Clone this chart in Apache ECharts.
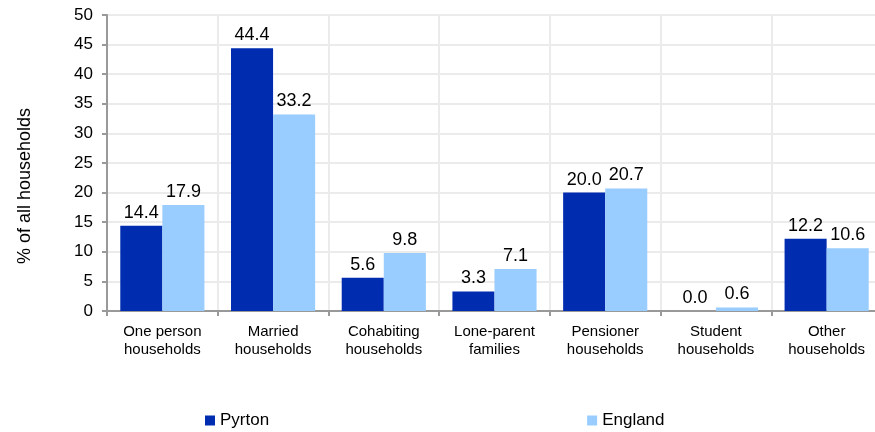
<!DOCTYPE html>
<html>
<head>
<meta http-equiv="content-type" content="text/html; charset=utf-8"/>
<title>Household composition</title>
<style type="text/css">body,html{width:100%;height:100%;margin:0;background:#fff;overflow:hidden}#chart{width:882px;height:432px}</style>
<script src="https://cdn.jsdelivr.net/npm/echarts@6/dist/echarts.min.js"></script>
</head>
<body>
<div id="chart"></div>
<script>
	var categories = ["One person\nhouseholds", "Married\nhouseholds", "Cohabiting\nhouseholds", "Lone-parent\nfamilies", "Pensioner\nhouseholds", "Student\nhouseholds", "Other\nhouseholds"];
	var pyrton = [14.4, 44.4, 5.6, 3.3, 20.0, 0.0, 12.2];
	var england = [17.9, 33.2, 9.8, 7.1, 20.7, 0.6, 10.6];
	var yTicks = {min: 0, max: 50, interval: 5};
	var yTitle = '% of all households';

	var font = "'Liberation Sans', Arial, sans-serif";
	var myChart = echarts.init(document.getElementById('chart'));

	//数据标签
	function barLabel() {
		return {
			show: true,
			position: 'top',
			distance: 4,
			color: '#000',
			fontFamily: font,
			fontSize: 18,
			formatter: function (p) { return p.value.toFixed(1); }
		};
	}

	var option = {
		animation: false,
		textStyle: {fontFamily: font},
		grid: {left: 107, right: 0, top: 15, bottom: 121},
		legend: {
			left: 200,
			top: 407,
			itemWidth: 10,
			itemHeight: 10,
			itemGap: 318,
			icon: 'rect',
			textStyle: {color: '#000', fontSize: 17, fontFamily: font},
			data: ['Pyrton', 'England']
		},
		//纵轴标题
		graphic: [{
			type: 'text',
			x: 25,
			y: 186,
			rotation: Math.PI / 2,
			style: {text: yTitle, fill: '#000', fontSize: 18, fontFamily: font, align: 'center', verticalAlign: 'middle'}
		}],
		xAxis: {
			type: 'category',
			data: categories,
			axisLine: {lineStyle: {color: '#999', width: 2}},
			axisTick: {show: true, length: 5, lineStyle: {color: '#999', width: 2}},
			axisLabel: {color: '#000', fontSize: 15, lineHeight: 18, margin: 12, interval: 0},
			splitLine: {show: true, lineStyle: {color: '#ebebeb', width: 2}}
		},
		yAxis: {
			type: 'value',
			min: yTicks.min,
			max: yTicks.max,
			interval: yTicks.interval,
			axisLine: {show: true, lineStyle: {color: '#999', width: 2}},
			axisTick: {show: true, length: 5, lineStyle: {color: '#999', width: 2}},
			axisLabel: {color: '#000', fontSize: 17, margin: 14},
			splitLine: {show: true, lineStyle: {color: '#ebebeb', width: 2}}
		},
		series: [
			{name: 'Pyrton', type: 'bar', data: pyrton, barGap: '0%', barCategoryGap: '24%',
				itemStyle: {color: '#002cb0'}, label: barLabel()},
			{name: 'England', type: 'bar', data: england,
				itemStyle: {color: '#99ccff'}, label: barLabel()}
		]
	};
	myChart.setOption(option);
</script>
</body>
</html>
